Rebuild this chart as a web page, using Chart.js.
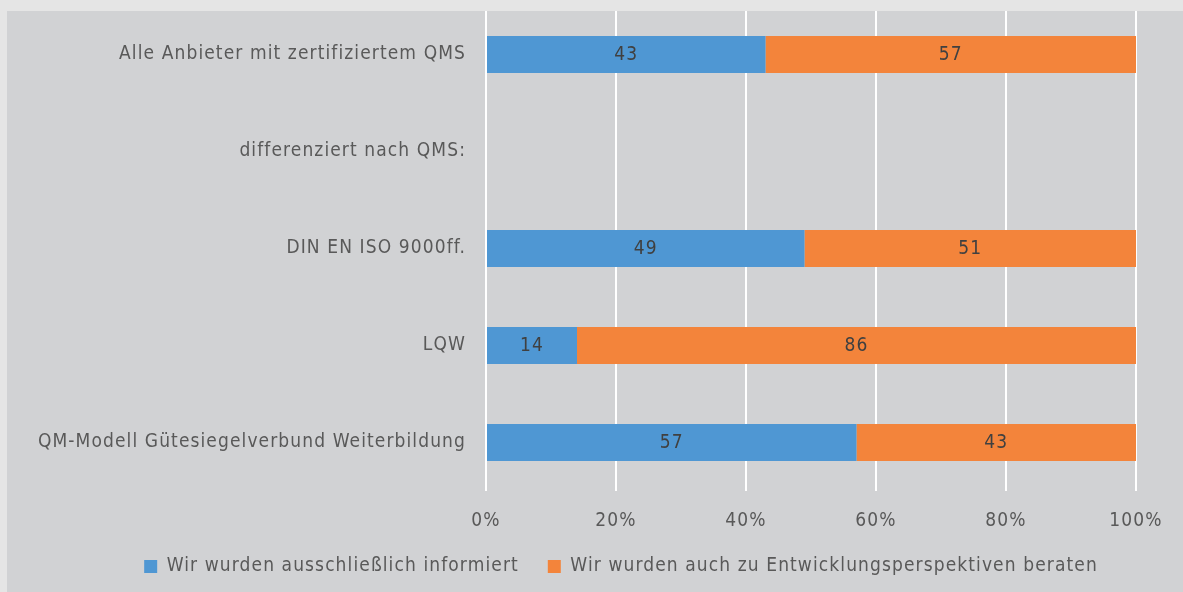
<!DOCTYPE html>
<html>
<head>
<meta charset="utf-8">
<script src="https://cdn.jsdelivr.net/npm/chart.js@4/dist/chart.umd.min.js"></script>
<style>
  html, body { margin: 0; padding: 0; background: #d1d2d4; }
  #wrap { width: 1183px; height: 592px; position: relative; }
</style>
</head>
<body>
<div id="wrap"><canvas id="chart" width="1183" height="592"></canvas></div>
<script>
const categories = [
  'Alle Anbieter mit zertifiziertem QMS',
  'differenziert nach QMS:',
  'DIN EN ISO 9000ff.',
  'LQW',
  'QM-Modell Gütesiegelverbund Weiterbildung'
];
const informiert = [43, null, 49, 14, 57];
const beraten = [57, null, 51, 86, 43];
const seriesNames = [
  'Wir wurden ausschließlich informiert',
  'Wir wurden auch zu Entwicklungsperspektiven beraten'
];
const xTicks = [0, 20, 40, 60, 80, 100];

const FONT = "'DejaVu Sans Condensed', 'DejaVu Sans', sans-serif";
const TEXT = '#595959';
const SPACING = '1.1px';

// grey panel, light strip at top/left, letter spacing for the condensed look
const backdrop = {
  id: 'backdrop',
  beforeUpdate(chart) {
    chart.ctx.letterSpacing = SPACING;
  },
  afterLayout(chart) {
    // nudge the legend row to where the original sits
    const lg = chart.legend;
    lg.left += 53;
    lg.right += 53;
    lg.top -= 8;
    lg.bottom -= 8;
  },
  beforeDraw(chart) {
    const ctx = chart.ctx;
    ctx.letterSpacing = SPACING;
    ctx.save();
    ctx.fillStyle = '#d1d2d4';
    ctx.fillRect(0, 0, chart.width, chart.height);
    ctx.restore();
  },
  afterDraw(chart) {
    const ctx = chart.ctx;
    ctx.save();
    ctx.fillStyle = '#e5e5e5';
    ctx.fillRect(0, 0, chart.width, 11);
    ctx.fillRect(0, 0, 7, chart.height);
    ctx.restore();
  }
};

// value labels in the middle of each segment
const segmentLabels = {
  id: 'segmentLabels',
  afterDatasetsDraw(chart) {
    const ctx = chart.ctx;
    ctx.save();
    ctx.font = '19px ' + FONT;
    ctx.fillStyle = '#404040';
    ctx.textAlign = 'center';
    ctx.textBaseline = 'middle';
    chart.data.datasets.forEach((ds, i) => {
      chart.getDatasetMeta(i).data.forEach((bar, j) => {
        const v = ds.data[j];
        if (v == null) return;
        const p = bar.getProps(['x', 'y', 'base'], true);
        ctx.fillText(String(v), (p.x + p.base) / 2, p.y + 1);
      });
    });
    ctx.restore();
  }
};

new Chart(document.getElementById('chart'), {
  type: 'bar',
  data: {
    labels: categories,
    datasets: [
      {
        label: seriesNames[0],
        data: informiert,
        backgroundColor: '#4f97d3'
      },
      {
        label: seriesNames[1],
        data: beraten,
        backgroundColor: '#f3843b'
      }
    ]
  },
  options: {
    indexAxis: 'y',
    responsive: false,
    animation: false,
    barPercentage: 0.38,
    categoryPercentage: 1,
    layout: { padding: { top: 6, right: 47, bottom: -2, left: 0 } },
    scales: {
      x: {
        stacked: true,
        min: 0,
        max: 100,
        afterBuildTicks(scale) {
          scale.ticks = xTicks.map(v => ({ value: v }));
        },
        afterFit(scale) {
          scale.height = 45;
          scale.paddingLeft = 0;
          scale.paddingRight = 0;
        },
        grid: { color: '#ffffff', lineWidth: 2, drawTicks: false },
        border: { display: false },
        ticks: {
          padding: 19,
          color: TEXT,
          font: { family: FONT, size: 19 },
          callback: v => v + '%'
        }
      },
      y: {
        stacked: true,
        afterFit(scale) {
          scale.width = 486;
          scale.paddingTop = 0;
          scale.paddingBottom = 0;
        },
        grid: { display: false, drawTicks: false },
        border: { display: false },
        ticks: {
          padding: 20,
          color: TEXT,
          font: { family: FONT, size: 19 }
        }
      }
    },
    plugins: {
      legend: {
        position: 'bottom',
        labels: {
          boxWidth: 13,
          boxHeight: 13,
          padding: 29,
          color: TEXT,
          font: { family: FONT, size: 19 }
        }
      },
      tooltip: { enabled: false }
    }
  },
  plugins: [backdrop, segmentLabels]
});
</script>
</body>
</html>
